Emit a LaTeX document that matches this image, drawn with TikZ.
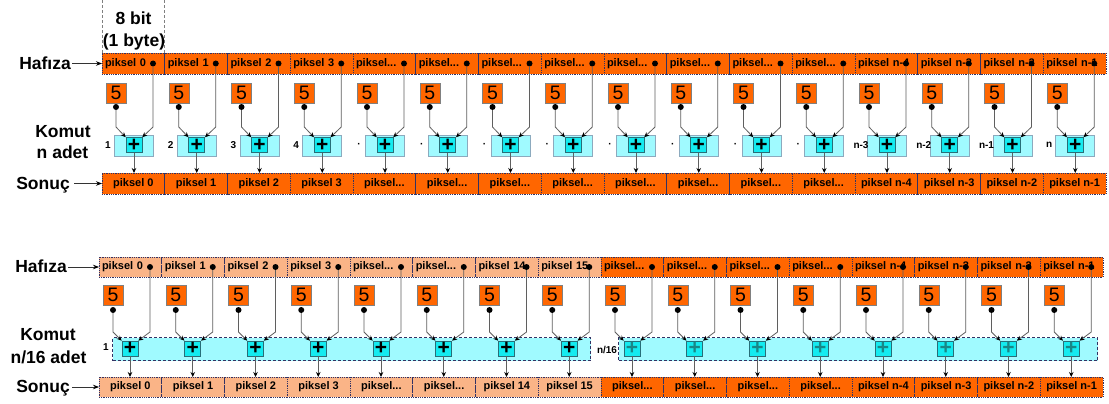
\documentclass[tikz,border=0pt]{standalone}
\usepackage{fontspec}
\setmainfont{Liberation Sans}
\usetikzlibrary{arrows.meta}
\definecolor{org}{RGB}{255,102,0}
\definecolor{peach}{RGB}{250,180,135}
\definecolor{lcyan}{RGB}{160,250,255}
\definecolor{pcyan}{RGB}{20,235,240}
\definecolor{pbord}{RGB}{40,110,120}
\definecolor{kbord}{RGB}{140,170,190}
\definecolor{navy}{RGB}{50,50,100}
\definecolor{conn}{RGB}{95,95,95}
\definecolor{pteal}{RGB}{25,135,135}
\newcommand\pksd{piksel...}
\tikzset{
  memcell/.style={draw=navy, densely dotted, line width=0.8pt, fill=org, anchor=north west,
    inner xsep=3pt, inner ysep=0pt, outer sep=0pt, text width=56.75pt, align=left,
    minimum height=21pt, font=\fontsize{11}{12}\selectfont\bfseries},
  outcell/.style={draw=navy, densely dotted, line width=0.8pt, fill=org, anchor=north west,
    inner sep=0pt, outer sep=0pt, minimum width=62.75pt, minimum height=21pt,
    font=\fontsize{11}{12}\selectfont\bfseries},
  fivebox/.style={draw=gray, line width=0.5pt, fill=org, inner sep=0pt, minimum size=20pt,
    font=\fontsize{19.5}{20}\selectfont},
  dotn/.style={circle, fill=black, inner sep=0pt, minimum size=6pt},
  kbox/.style={draw=kbord, line width=0.6pt, fill=lcyan, inner sep=0pt,
    minimum width=39pt, minimum height=21pt},
  kbar/.style={draw=navy, densely dashed, line width=1.1pt, fill=lcyan, inner sep=0pt, anchor=north west},
  pbox/.style={draw=pbord, line width=0.6pt, fill=pcyan, inner sep=0pt,
    minimum width=16pt, minimum height=15pt, font=\fontsize{21}{21}\selectfont\bfseries},
  klab/.style={inner sep=0pt, font=\fontsize{10}{11}\selectfont\bfseries},
  side/.style={inner sep=0pt, anchor=base, font=\fontsize{17.5}{20}\selectfont\bfseries},
  conn/.style={draw=conn, line width=0.8pt, -{Stealth[length=5pt,width=4.5pt,color=black]}},
  sidearrow/.style={draw=black!80, line width=0.8pt, -{Stealth[length=6pt,width=4.5pt,color=black]}},
}
\begin{document}
\begin{tikzpicture}[x=1pt,y=-1pt]
\useasboundingbox[fill=white] (0,0) rectangle (1109,404);
\coordinate (bendT) at (0,127);
\coordinate (bendB) at (0,332);
\coordinate (topedge) at (0,0);

% ---------------- top section ----------------
\foreach \i/\ml/\kl in {0/piksel 0/1, 1/piksel 1/2, 2/piksel 2/3, 3/piksel 3/4,
  4/\pksd/·, 5/\pksd/·, 6/\pksd/·, 7/\pksd/·, 8/\pksd/·, 9/\pksd/·,
  10/\pksd/·, 11/\pksd/·, 12/piksel n-4/n-3, 13/piksel n-3/n-2, 14/piksel n-2/n-1, 15/piksel n-1/n}{
  \pgfmathsetmacro\xx{102+\i*62.75}
  \node[memcell] (mT\i) at (\xx,53) {\ml};
  \node[dotn] (mdT\i) at (\xx+51,63.5) {};
  \node[fivebox] (fT\i) at (\xx+14,93) {5};
  \node[dotn] (fdT\i) at (\xx+14,107) {};
  \node[kbox] (kT\i) at (\xx+32,145.5) {};
  \node[pbox] (pT\i) at (\xx+32,145) {+};
  \node[klab] (lT\i) at (\xx+6,145) {\kl};
  \node[outcell] (oT\i) at (\xx,173) {\ml};
  \draw[conn] (fdT\i) -- (fdT\i |- bendT) -- (pT\i.north west);
  \draw[conn] (mdT\i) -- (mdT\i |- bendT) -- (pT\i.north east);
  \draw[conn] (pT\i) -- (pT\i |- oT\i.north);
}
\draw[gray, densely dashed, line width=0.6pt] (mT0.north west) -- (mT0.north west |- topedge);
\draw[gray, densely dashed, line width=0.6pt] (mT0.north east) -- (mT0.north east |- topedge);
\node[side] (bit) at (133.5,24.5) {8 bit};
\node[side] (byte) at (134,47) {(1 byte)};

\node[side, anchor=base east] (hafT) at (71,69.5) {Hafıza};
\node[side] (komT) at (63,137) {Komut};
\node[side] (adetT) at (62.5,158) {n adet};
\node[side, anchor=base east] (sonT) at (70,189) {Sonuç};
\draw[sidearrow] (hafT.east |- mT0.west) ++(1,0) -- (mT0.west);
\draw[sidearrow] (sonT.east |- oT0.west) ++(4,0) -- (oT0.west);

% ---------------- bottom section ----------------
\node[kbar, minimum width=478pt, minimum height=23pt] (kB1) at (112,337) {};
\node[kbar, minimum width=479pt, minimum height=23pt] (kB2) at (618,337) {};
\foreach \i/\ml/\cc/\pc in {0/piksel 0/peach/black, 1/piksel 1/peach/black, 2/piksel 2/peach/black,
  3/piksel 3/peach/black, 4/\pksd/peach/black, 5/\pksd/peach/black, 6/piksel 14/peach/black,
  7/piksel 15/peach/black, 8/\pksd/org/pteal, 9/\pksd/org/pteal, 10/\pksd/org/pteal,
  11/\pksd/org/pteal, 12/piksel n-4/org/pteal, 13/piksel n-3/org/pteal, 14/piksel n-2/org/pteal,
  15/piksel n-1/org/pteal}{
  \pgfmathsetmacro\xx{99+\i*62.75}
  \node[memcell, fill=\cc, minimum height=20pt] (mB\i) at (\xx,257) {\ml};
  \node[dotn] (mdB\i) at (\xx+51,267) {};
  \node[fivebox] (fB\i) at (\xx+14,295) {5};
  \node[dotn] (fdB\i) at (\xx+14,310) {};
  \node[pbox, text=\pc] (pB\i) at (\xx+31,348.5) {+};
  \node[outcell, fill=\cc, minimum height=20pt] (oB\i) at (\xx,377) {\ml};
  \draw[conn] (fdB\i) -- (fdB\i |- bendB) -- (pB\i.north west);
  \draw[conn] (mdB\i) -- (mdB\i |- bendB) -- (pB\i.north east);
  \draw[conn] (pB\i) -- (pB\i |- oB\i.north);
}
\node[klab] (lB1) at (106,347) {1};
\node[klab] (lB2) at (607,350) {n/16};

\node[side, anchor=base east] (hafB) at (67,272) {Hafıza};
\node[side] (komB) at (48,340) {Komut};
\node[side] (adetB) at (48.5,363) {n/16 adet};
\node[side, anchor=base east] (sonB) at (70,392) {Sonuç};
\draw[sidearrow] (hafB.east |- mB0.west) ++(1,0) -- (mB0.west);
\draw[sidearrow] (sonB.east |- oB0.west) ++(2,0) -- (oB0.west);
\end{tikzpicture}
\end{document}
